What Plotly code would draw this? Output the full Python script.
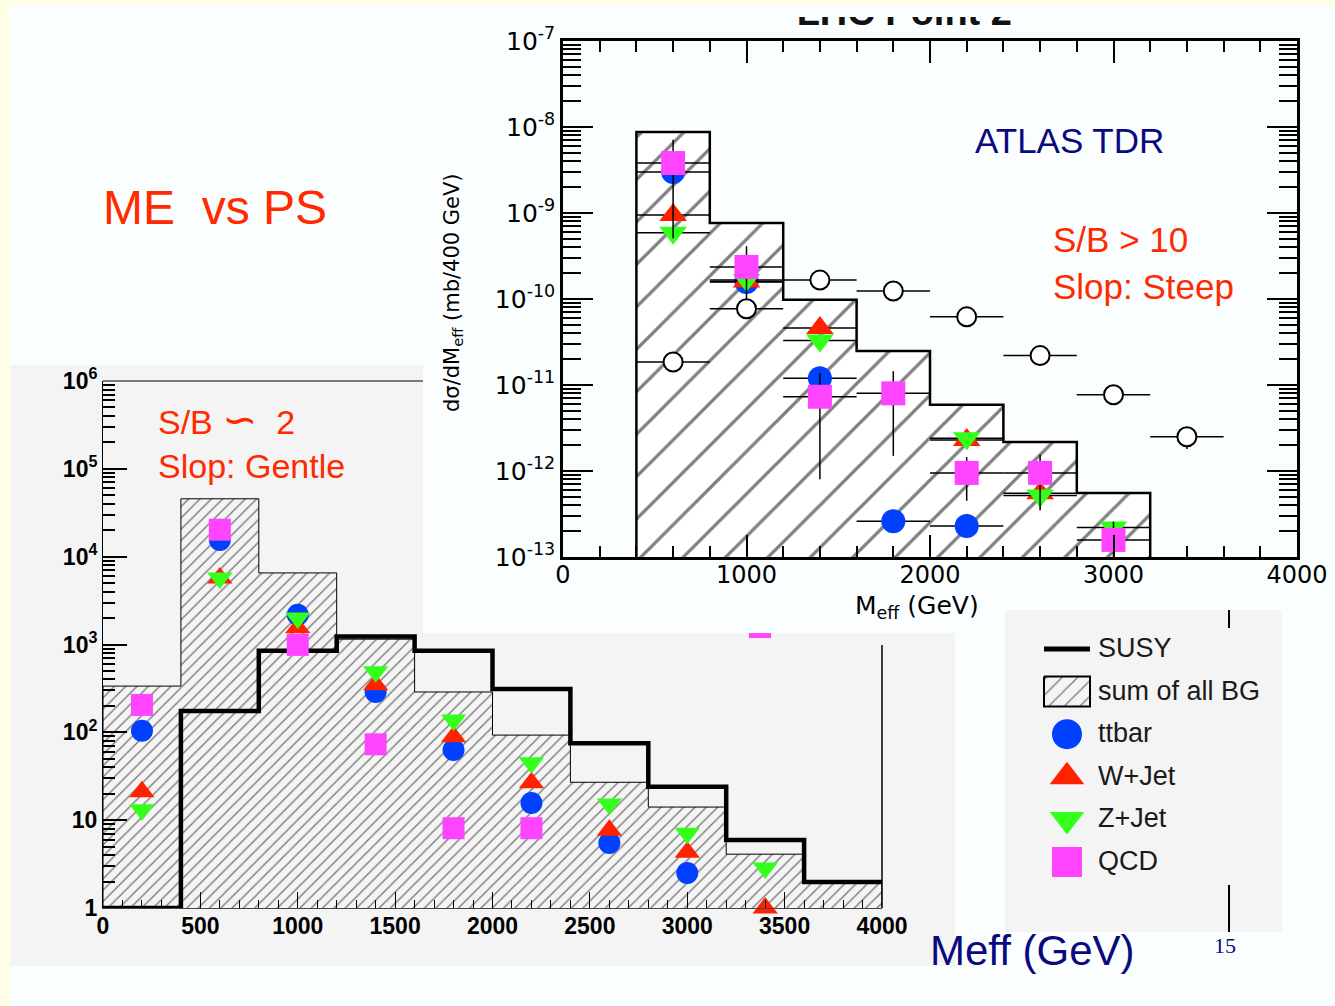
import plotly.graph_objects as go

W, H = 1335, 1006


def fx(px):
    return px / W


def fy(py):
    return 1 - py / H


# colours
C_TTBAR = "#0040FF"
C_WJET = "#FF2200"
C_ZJET = "#33FF1A"
C_QCD = "#FF44FF"
RED_TXT = "#FF2A00"
NAVY = "#0A0A80"
GRAY_BG = "#F4F4F4"
SLIDE_BG = "#FAFEFE"
SLIDE_EDGE = "#FFFFE6"

# ---------------- upper panel: ATLAS TDR, LHC Point 2 ----------------
tdr_edges = [400, 800, 1200, 1600, 2000, 2400, 2800, 3200]
tdr_bg = [8.75e-9, 7.66e-10, 9.8e-11, 2.48e-11, 5.9e-12, 2.18e-12, 5.55e-13]
tdr_centers = [600, 1000, 1400, 1800, 2200, 2600, 3000, 3400]
tdr_susy = [1.85e-11, 7.7e-11, 1.66e-10, 1.24e-10, 6.2e-11, 2.2e-11, 7.7e-12, 2.5e-12]
tdr_susy_err = [3e-12, 1.4e-11, 2.5e-11, 2e-11, 1.2e-11, 4.5e-12, 1.8e-12, 7e-13]
tdr_ttbar = [3.0e-9, 1.58e-10, 1.2e-11, 2.6e-13, 2.3e-13, None, None, None]
tdr_wjet = [9.5e-10, 1.6e-10, 4.6e-11, None, 2.3e-12, 5.5e-13, None, None]
tdr_zjet = [5.9e-10, 1.66e-10, 3.3e-11, None, 2.4e-12, 5.2e-13, 2.2e-13, None]
tdr_qcd = [3.81e-9, 2.36e-10, 7.3e-12, 8.0e-12, 9.5e-13, 9.5e-13, 1.58e-13, None]
tdr_qcd_err = [3.3e-9, 1.75e-10, 6.5e-12, 6.5e-12, 5e-13, 6e-13, 1e-13, None]
tdr_exponents = [-13, -12, -11, -10, -9, -8, -7]

# ---------------- lower panel: ME vs PS ----------------
me_edges = [0, 400, 800, 1200, 1600, 2000, 2400, 2800, 3200, 3600, 4000]
me_centers = [200, 600, 1000, 1400, 1800, 2200, 2600, 3000, 3400, 3800]
me_susy = [1.0, 175, 847, 1230, 847, 311, 75, 24, 5.96, 1.98]
me_bg = [336, 45600, 6530, 1150, 288, 93, 27, 14.1, 4.1, 1.93]
me_ttbar = [104, 15500, 2180, 288, 63, 15.7, 5.5, 2.5, None, None]
me_wjet = [21, 5700, 1550, 347, 89, 26.6, 7.7, 4.3, 1.0, None]
me_zjet = [13.1, 5700, 2000, 490, 138, 45, 15.3, 7.1, 2.85, None]
me_qcd = [205, 20300, 990, 73, 8.1, 8.1, None, None, None, None]
me_exponents = [0, 1, 2, 3, 4, 5, 6]

legend_labels = ["SUSY", "sum of all BG", "ttbar", "W+Jet", "Z+Jet", "QCD"]

series_styles = [
    ("ttbar", "circle", C_TTBAR),
    ("W+Jet", "triangle-up", C_WJET),
    ("Z+Jet", "triangle-down", C_ZJET),
    ("QCD", "square", C_QCD),
]


def hist_outline(edges, vals, floor):
    """Closed step outline of a histogram, dropped to `floor` at both ends."""
    xs, ys = [edges[0]], [floor]
    for i, v in enumerate(vals):
        xs += [edges[i], edges[i + 1]]
        ys += [v, v]
    xs += [edges[len(vals)], edges[0]]
    ys += [floor, floor]
    return xs, ys


def log_labels(exps):
    return [("1" if e == 0 else "10" if e == 1 else f"10<sup>{e}</sup>") for e in exps]


def minor_log(exps):
    return [k * 10.0 ** e for e in exps[:-1] for k in range(2, 10)]


fig = go.Figure()

# upper panel: background histogram
bx, by = hist_outline(tdr_edges, tdr_bg, 1e-15)
fig.add_trace(go.Scatter(
    x=bx, y=by, mode="lines", fill="toself", xaxis="x", yaxis="y",
    line=dict(color="black", width=2.5),
    fillpattern=dict(shape="/", size=30, solidity=0.11, fgcolor="black", bgcolor="white"),
    showlegend=False, hoverinfo="skip"))

tdr_series = {"ttbar": (tdr_ttbar, None), "W+Jet": (tdr_wjet, None),
              "Z+Jet": (tdr_zjet, None), "QCD": (tdr_qcd, tdr_qcd_err)}
for name, sym, col in series_styles:
    vals, err = tdr_series[name]
    fig.add_trace(go.Scatter(
        x=tdr_centers, y=vals, mode="markers", xaxis="x", yaxis="y", name=name,
        marker=dict(symbol=sym, size=24, color=col, line=dict(width=0)),
        error_x=dict(type="constant", value=200, color="black", thickness=1.5, width=0),
        error_y=(dict(type="data", array=err, color="black", thickness=1.5, width=0)
                 if err else dict(visible=False)),
        showlegend=False))

fig.add_trace(go.Scatter(
    x=tdr_centers, y=tdr_susy, mode="markers", xaxis="x", yaxis="y", name="SUSY",
    marker=dict(symbol="circle", size=19, color="white", line=dict(color="black", width=2)),
    error_x=dict(type="constant", value=200, color="black", thickness=1.5, width=0),
    error_y=dict(type="data", array=tdr_susy_err, color="black", thickness=1.5, width=0),
    showlegend=False))

# lower panel: background histogram and SUSY
mx, my = hist_outline(me_edges, me_bg, 0.1)
fig.add_trace(go.Scatter(
    x=mx, y=my, mode="lines", fill="toself", xaxis="x2", yaxis="y2",
    line=dict(color="black", width=1),
    fillpattern=dict(shape="/", size=8, solidity=0.17, fgcolor="black", bgcolor=GRAY_BG),
    showlegend=False, hoverinfo="skip"))

fig.add_trace(go.Scatter(
    x=me_edges, y=me_susy + [me_susy[-1]], mode="lines", line_shape="hv",
    xaxis="x2", yaxis="y2", line=dict(color="black", width=4.5),
    showlegend=False, name="SUSY"))

me_series = {"ttbar": me_ttbar, "W+Jet": me_wjet, "Z+Jet": me_zjet, "QCD": me_qcd}
for name, sym, col in series_styles:
    fig.add_trace(go.Scatter(
        x=me_centers, y=me_series[name], mode="markers", xaxis="x2", yaxis="y2",
        name=name, cliponaxis=False,
        marker=dict(symbol=sym, size=22, color=col, line=dict(width=0)),
        showlegend=False))

# upper-panel title, mostly cut off by the top edge of the panel
fig.add_trace(go.Scatter(
    x=[0.465], y=[0.18], mode="text", text=["LHC Point 2"], textposition="top center",
    textfont=dict(family="Liberation Sans", size=38, color="#111111", weight="bold"),
    xaxis="x3", yaxis="y3", cliponaxis=False, showlegend=False, hoverinfo="skip"))

# legend keys (pixel-space helper axes)
key_x0, key_x1, key_xc = 1044, 1090, 1067
row_y0, row_dy = 649, 42.6
rows = [row_y0 + i * row_dy for i in range(len(legend_labels))]
fig.add_trace(go.Scatter(
    x=[key_x0, key_x1], y=[rows[0], rows[0]], mode="lines", xaxis="x4", yaxis="y4",
    line=dict(color="black", width=5), showlegend=False, hoverinfo="skip"))
fig.add_trace(go.Scatter(
    x=[key_x0, key_x1, key_x1, key_x0, key_x0],
    y=[rows[1] - 15, rows[1] - 15, rows[1] + 15, rows[1] + 15, rows[1] - 15],
    mode="lines", fill="toself", xaxis="x4", yaxis="y4",
    line=dict(color="black", width=2),
    fillpattern=dict(shape="/", size=11, solidity=0.12, fgcolor="black", bgcolor=GRAY_BG),
    showlegend=False, hoverinfo="skip"))
for i, (name, sym, col) in enumerate(series_styles):
    fig.add_trace(go.Scatter(
        x=[key_xc], y=[rows[i + 2]], mode="markers", xaxis="x4", yaxis="y4",
        marker=dict(symbol=sym, size=30, color=col, line=dict(width=0)),
        cliponaxis=False, showlegend=False, hoverinfo="skip"))

# ---------------- shapes ----------------
shapes = []


def rect(x0, y0, x1, y1, color, layer="below"):
    shapes.append(dict(type="rect", xref="paper", yref="paper",
                       x0=fx(x0), x1=fx(x1), y0=fy(y1), y1=fy(y0),
                       fillcolor=color, line=dict(width=0), layer=layer))


def seg(x0, y0, x1, y1, width, color="black"):
    shapes.append(dict(type="line", xref="paper", yref="paper",
                       x0=fx(x0), x1=fx(x1), y0=fy(y0), y1=fy(y1),
                       line=dict(color=color, width=width), layer="above"))


rect(10, 5, 1335, 1006, SLIDE_BG)
rect(10, 365, 423, 633, GRAY_BG)
rect(10, 633, 955, 966, GRAY_BG)
rect(1005, 610, 1282, 932, GRAY_BG)
rect(749, 633, 771, 638, C_QCD)
# the panel image starts at y=17, hiding the upper part of its title
rect(740, 0, 1080, 5, SLIDE_EDGE, layer="above")
rect(740, 5, 1080, 17, SLIDE_BG, layer="above")
seg(103, 381, 423, 381, 1)
seg(882, 645, 882, 908, 1.5)
seg(1229, 610, 1229, 628, 2)
seg(1229, 885, 1229, 932, 2)

# ---------------- annotations ----------------
annotations = []


def text(x, y, s, size, color, family="Liberation Sans", anchor="left", angle=0, weight="normal"):
    annotations.append(dict(xref="paper", yref="paper", x=fx(x), y=fy(y), text=s,
                            showarrow=False, xanchor=anchor, yanchor="middle",
                            textangle=angle,
                            font=dict(family=family, size=size, color=color, weight=weight)))


text(101, 207, "ME  vs PS", 48, RED_TXT)
text(973, 140, "ATLAS TDR", 35, NAVY)
text(1051, 240, "S/B &gt; 10", 35, RED_TXT, family="Liberation Sans, DejaVu Sans")
text(1051, 287, "Slop: Steep", 35, RED_TXT)
text(156, 419,
     "S/B <span style=\"font-family:'DejaVu Sans';font-size:42px\">∽</span>  2",
     34, RED_TXT, family="Liberation Sans, DejaVu Sans")
text(156, 466, "Slop: Gentle", 34, RED_TXT)
text(853, 607, "M<sub>eff</sub> (GeV)", 25, "black", family="DejaVu Sans")
text(453, 292, "dσ/dM<sub>eff</sub> (mb/400 GeV)", 21, "black", family="DejaVu Sans",
     anchor="center", angle=-90)
text(928, 950, "Meff (GeV)", 42, NAVY)
text(1225, 945, "15", 22, NAVY, family="Liberation Serif", anchor="center")
for lab, ry in zip(legend_labels, rows):
    text(1096, ry - 1, lab, 27, "#1A1A1A")

# ---------------- axes ----------------
tick_common = dict(showgrid=False, zeroline=False, fixedrange=True, ticks="inside",
                   tickcolor="black", automargin=False)

fig.update_layout(
    width=W, height=H, autosize=False,
    margin=dict(l=0, r=0, t=0, b=0, pad=0, autoexpand=False),
    paper_bgcolor=SLIDE_EDGE, plot_bgcolor="rgba(0,0,0,0)",
    showlegend=False, shapes=shapes, annotations=annotations,
    xaxis=dict(domain=[fx(563), fx(1297)], range=[0, 4000], anchor="y",
               showline=True, linewidth=2.5, linecolor="black", mirror="ticks",
               ticklen=22, tickwidth=2, dtick=1000, tick0=0, ticklabelstandoff=-6,
               minor=dict(dtick=200, tick0=0, ticks="inside", ticklen=11,
                          tickwidth=2, tickcolor="black", showgrid=False),
               tickfont=dict(family="DejaVu Sans", size=24, color="black"),
               **tick_common),
    yaxis=dict(domain=[fy(557), fy(41)], type="log", range=[-13, -7], anchor="x",
               showline=True, linewidth=2.5, linecolor="black", mirror="ticks",
               tickmode="array", tickvals=[10.0 ** e for e in tdr_exponents],
               ticktext=log_labels(tdr_exponents), ticklen=30, tickwidth=2,
               minor=dict(tickmode="array", tickvals=minor_log(tdr_exponents),
                          ticks="inside", ticklen=18, tickwidth=2, tickcolor="black",
                          showgrid=False),
               tickfont=dict(family="DejaVu Sans", size=25, color="black"),
               **tick_common),
    xaxis2=dict(domain=[fx(103), fx(882)], range=[0, 4000], anchor="y2",
                showline=True, linewidth=1, linecolor="#444444",
                ticklen=16, tickwidth=1, dtick=500, tick0=0, ticklabelstandoff=-3,
                minor=dict(dtick=100, tick0=0, ticks="inside", ticklen=8,
                           tickwidth=1, tickcolor="black", showgrid=False),
                tickfont=dict(family="Liberation Sans", size=23, color="black", weight="bold"),
                **tick_common),
    yaxis2=dict(domain=[fy(908), fy(381)], type="log", range=[0, 6], anchor="x2",
                showline=True, linewidth=1, linecolor="black",
                tickmode="array", tickvals=[10.0 ** e for e in me_exponents],
                ticktext=log_labels(me_exponents), ticklen=24, tickwidth=1.5,
                minor=dict(tickmode="array", tickvals=minor_log(me_exponents),
                           ticks="inside", ticklen=12, tickwidth=1.5, tickcolor="black",
                           showgrid=False),
                tickfont=dict(family="Liberation Sans", size=23, color="black", weight="bold"),
                **tick_common),
    xaxis3=dict(domain=[fx(563), fx(1297)], range=[0, 1], anchor="y3", visible=False,
                fixedrange=True, automargin=False),
    yaxis3=dict(domain=[fy(41), fy(5)], range=[0, 1], anchor="x3", visible=False,
                fixedrange=True, automargin=False),
    xaxis4=dict(domain=[fx(1005), fx(1282)], range=[1005, 1282], anchor="y4",
                visible=False, fixedrange=True, automargin=False),
    yaxis4=dict(domain=[fy(932), fy(610)], range=[932, 610], anchor="x4",
                visible=False, fixedrange=True, automargin=False),
)

fig.write_html("out.html")
